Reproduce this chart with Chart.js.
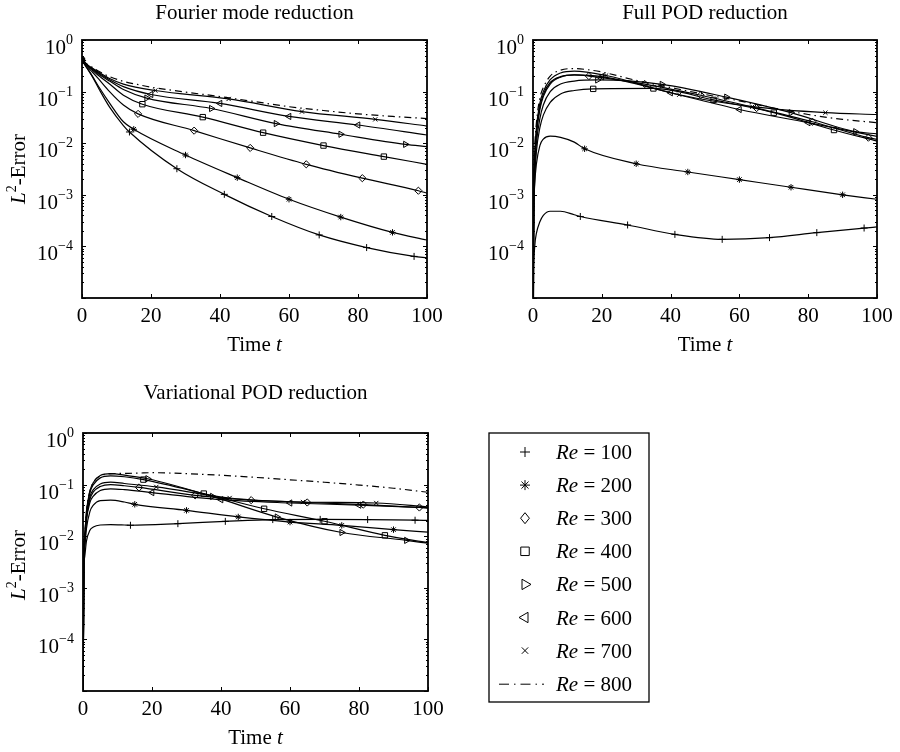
<!DOCTYPE html>
<html>
<head>
<meta charset="utf-8">
<script src="https://cdn.jsdelivr.net/npm/chart.js@4.4.1/dist/chart.umd.min.js"></script>
<style>
body { margin: 0; background: #fff; }
#page { position: relative; width: 900px; height: 752px; }
canvas { position: absolute; }
</style>
</head>
<body>
<div id="page">
<canvas id="fourier" width="450" height="360" style="left:0;top:0"></canvas>
<canvas id="fullPod" width="450" height="360" style="left:450px;top:0"></canvas>
<canvas id="varPod" width="450" height="382" style="left:0;top:370px"></canvas>
<canvas id="legend" width="200" height="300" style="left:470px;top:420px"></canvas>
</div>
<script>
var reynolds = [100, 200, 300, 400, 500, 600, 700, 800];

// sample times: common start, then marker times per Re (or plain samples for Re = 800), then t = 100
var earlyTimes = [0, 0.25, 0.5, 1, 2, 3, 5, 8, 12];
var markerTimes = [
    [13.75, 27.5, 41.25, 55, 68.75, 82.5, 96.25],
    [15, 30, 45, 60, 75, 90],
    [16.25, 32.5, 48.75, 65, 81.25, 97.5],
    [17.5, 35, 52.5, 70, 87.5],
    [18.75, 37.5, 56.25, 75, 93.75],
    [20, 40, 60, 80],
    [21.25, 42.5, 63.75, 85],
    []
];
var dashTimes = [16, 20, 30, 40, 50, 60, 70, 80, 90];
var endTime = 100;

var xTicks = [0, 20, 40, 60, 80, 100];
var yExponents = [0, -1, -2, -3, -4];

var fourierErr = [
    [0.4, 0.375, 0.355, 0.315, 0.25, 0.195, 0.11, 0.05, 0.022, 0.0165, 0.0032, 0.00102, 0.00038, 0.000167, 0.000095, 0.000064, 0.00006],
    [0.4, 0.378, 0.36, 0.32, 0.255, 0.2, 0.12, 0.06, 0.026, 0.0186, 0.0059, 0.00215, 0.00082, 0.00037, 0.000187, 0.000133],
    [0.4, 0.382, 0.365, 0.335, 0.28, 0.24, 0.17, 0.1, 0.055, 0.037, 0.0175, 0.0081, 0.0039, 0.0021, 0.0012, 0.00108],
    [0.4, 0.385, 0.37, 0.345, 0.295, 0.26, 0.2, 0.14, 0.085, 0.057, 0.032, 0.016, 0.009, 0.0055, 0.0039],
    [0.4, 0.387, 0.375, 0.35, 0.305, 0.27, 0.215, 0.16, 0.11, 0.075, 0.047, 0.024, 0.0149, 0.0095, 0.0086],
    [0.4, 0.388, 0.377, 0.355, 0.31, 0.28, 0.225, 0.17, 0.125, 0.088, 0.059, 0.033, 0.0225, 0.0144],
    [0.4, 0.39, 0.38, 0.36, 0.315, 0.285, 0.235, 0.18, 0.14, 0.105, 0.072, 0.041, 0.029, 0.0215],
    [0.4, 0.39, 0.38, 0.36, 0.32, 0.295, 0.245, 0.195, 0.158, 0.138, 0.122, 0.098, 0.08, 0.064, 0.051, 0.043, 0.037, 0.033, 0.030]
];

var fullPodErr = [
    [0.000001, 0.00004, 0.0001, 0.00018, 0.0003, 0.0004, 0.00048, 0.00048, 0.00041, 0.00038, 0.00026, 0.000171, 0.000137, 0.000148, 0.000185, 0.000227, 0.000238],
    [0.000003, 0.0005, 0.0016, 0.004, 0.009, 0.012, 0.0137, 0.013, 0.0105, 0.0078, 0.004, 0.00277, 0.00197, 0.0014, 0.001, 0.00082],
    [0.000003, 0.0012, 0.005, 0.017, 0.05, 0.088, 0.15, 0.195, 0.21, 0.2, 0.14, 0.085, 0.048, 0.026, 0.0128, 0.0118],
    [0.000003, 0.0005, 0.002, 0.007, 0.02, 0.035, 0.062, 0.09, 0.105, 0.113, 0.115, 0.069, 0.039, 0.018, 0.011],
    [0.000003, 0.0008, 0.003, 0.01, 0.03, 0.055, 0.1, 0.14, 0.16, 0.168, 0.138, 0.078, 0.039, 0.0167, 0.0152],
    [0.000003, 0.001, 0.004, 0.014, 0.045, 0.08, 0.14, 0.19, 0.21, 0.195, 0.095, 0.045, 0.025, 0.0135],
    [0.000003, 0.0015, 0.006, 0.02, 0.06, 0.1, 0.17, 0.23, 0.25, 0.205, 0.087, 0.051, 0.039, 0.036],
    [0.000003, 0.002, 0.008, 0.025, 0.075, 0.12, 0.2, 0.26, 0.28, 0.265, 0.24, 0.165, 0.12, 0.088, 0.066, 0.048, 0.036, 0.029, 0.025]
];

var varPodErr = [
    [0.000002, 0.002, 0.004, 0.008, 0.013, 0.015, 0.0165, 0.0168, 0.0165, 0.0163, 0.0175, 0.0194, 0.021, 0.0212, 0.021, 0.0204, 0.0203],
    [0.000002, 0.003, 0.006, 0.014, 0.03, 0.04, 0.049, 0.05, 0.046, 0.0415, 0.0317, 0.0236, 0.0188, 0.0162, 0.0134, 0.012],
    [0.000002, 0.0035, 0.008, 0.022, 0.052, 0.072, 0.092, 0.1, 0.095, 0.088, 0.062, 0.05, 0.045, 0.041, 0.036, 0.035],
    [0.000002, 0.004, 0.01, 0.028, 0.07, 0.1, 0.135, 0.148, 0.142, 0.125, 0.067, 0.034, 0.0195, 0.0104, 0.0075],
    [0.000002, 0.004, 0.01, 0.03, 0.075, 0.11, 0.15, 0.163, 0.152, 0.13, 0.059, 0.0235, 0.0118, 0.0083, 0.0073],
    [0.000002, 0.003, 0.007, 0.02, 0.045, 0.06, 0.077, 0.083, 0.08, 0.07, 0.051, 0.044, 0.04, 0.0357],
    [0.000002, 0.0035, 0.009, 0.024, 0.058, 0.08, 0.103, 0.112, 0.105, 0.09, 0.055, 0.046, 0.044, 0.037],
    [0.000002, 0.004, 0.01, 0.03, 0.075, 0.11, 0.148, 0.162, 0.165, 0.167, 0.17, 0.163, 0.152, 0.138, 0.124, 0.111, 0.098, 0.085, 0.071]
];

// marker look per Re
var markerStyles = ['cross', 'star', 'rectRot', 'rect', 'triangle', 'triangle', 'crossRot', false];
var markerRotation = [0, 0, 0, 0, 90, -90, 0, 0];
var markerRadius = [3.5, 3.2, 3.6, 3.8, 3.6, 3.6, 3, 0];

var serif = '"Liberation Serif", "Times New Roman", serif';

function buildDatasets(values) {
    return reynolds.map(function(re, i) {
        var plain = markerStyles[i] === false;
        var times = earlyTimes.concat(plain ? dashTimes : markerTimes[i], [endTime]);
        var points = times.map(function(t, j) {
            var isMark = !plain && (j === 0 || (j >= earlyTimes.length && j < earlyTimes.length + markerTimes[i].length));
            return { x: t, y: values[i][j], m: isMark };
        });
        return {
            label: 'Re = ' + re,
            data: points,
            borderColor: '#000',
            borderWidth: 1.2,
            borderDash: plain ? [7, 4, 1.5, 4] : [],
            cubicInterpolationMode: 'monotone',
            fill: false,
            pointStyle: plain ? 'circle' : markerStyles[i],
            pointRotation: markerRotation[i],
            pointRadius: function(ctx) { return ctx.raw && ctx.raw.m ? markerRadius[i] : 0; },
            pointHoverRadius: 0,
            pointBorderColor: '#000',
            pointBackgroundColor: 'rgba(0,0,0,0)',
            pointBorderWidth: 1
        };
    });
}

function drawRich(ctx, parts, x, y) {
    parts.forEach(function(p) {
        ctx.font = p.font;
        ctx.fillText(p.text, x, y - (p.raise || 0));
        x += ctx.measureText(p.text).width;
    });
}

function richWidth(ctx, parts) {
    var w = 0;
    parts.forEach(function(p) {
        ctx.font = p.font;
        w += ctx.measureText(p.text).width;
    });
    return w;
}

var frame = {
    id: 'frame',
    afterDraw: function(chart, args, opts) {
        var ctx = chart.ctx, a = chart.chartArea;
        var xs = chart.scales.x, ys = chart.scales.y;
        ctx.save();
        ctx.strokeStyle = '#000';
        ctx.fillStyle = '#000';

        ctx.lineWidth = 1;
        ctx.beginPath();
        xTicks.forEach(function(t) {
            var px = Math.round(xs.getPixelForValue(t)) + 0.5;
            ctx.moveTo(px, a.bottom); ctx.lineTo(px, a.bottom - 4);
            ctx.moveTo(px, a.top); ctx.lineTo(px, a.top + 4);
        });
        for (var k = -5; k <= 0; k++) {
            for (var m = 1; m <= 9; m++) {
                var v = m * Math.pow(10, k);
                if (v > 1) break;
                var py = Math.round(ys.getPixelForValue(v)) + 0.5;
                var len = m === 1 ? 4 : 2;
                ctx.moveTo(a.left, py); ctx.lineTo(a.left + len, py);
                ctx.moveTo(a.right, py); ctx.lineTo(a.right - len, py);
            }
        }
        ctx.stroke();

        ctx.lineWidth = 1.8;
        ctx.strokeRect(a.left, a.top, a.right - a.left, a.bottom - a.top);

        ctx.textBaseline = 'alphabetic';
        ctx.font = '21px ' + serif;
        ctx.textAlign = 'center';
        xTicks.forEach(function(t) {
            ctx.fillText(String(t), xs.getPixelForValue(t), a.bottom + 24);
        });

        ctx.textAlign = 'right';
        yExponents.forEach(function(e) {
            var py = ys.getPixelForValue(Math.pow(10, e));
            var sup = e === 0 ? '0' : '\u2212' + (-e);
            ctx.font = '14px ' + serif;
            var sw = ctx.measureText(sup).width;
            ctx.fillText(sup, a.left - 9, py + 4);
            ctx.font = '21px ' + serif;
            ctx.fillText('10', a.left - 9 - sw, py + 14);
        });

        ctx.textAlign = 'left';
        var cx = (a.left + a.right) / 2;
        ctx.font = '21px ' + serif;
        var tw = ctx.measureText(opts.title).width;
        ctx.fillText(opts.title, cx - tw / 2, opts.titleY);

        var xLabel = [
            { text: 'Time ', font: '21px ' + serif },
            { text: 't', font: 'italic 21px ' + serif }
        ];
        drawRich(ctx, xLabel, cx - richWidth(ctx, xLabel) / 2, a.bottom + 53);

        if (opts.yLabel) {
            var yLabel = [
                { text: 'L', font: 'italic 21px ' + serif },
                { text: '2', font: '14px ' + serif, raise: 9 },
                { text: '-Error', font: '21px ' + serif }
            ];
            var cy = (a.top + a.bottom) / 2 + (opts.yLabelShift || 0);
            ctx.translate(25, cy);
            ctx.rotate(-Math.PI / 2);
            drawRich(ctx, yLabel, -richWidth(ctx, yLabel) / 2, 0);
        }
        ctx.restore();
    }
};

function makeChart(id, values, padding, frameOpts) {
    return new Chart(document.getElementById(id).getContext('2d'), {
        type: 'line',
        data: { datasets: buildDatasets(values) },
        options: {
            responsive: false,
            animation: false,
            devicePixelRatio: 1,
            events: [],
            layout: { padding: padding },
            scales: {
                x: { type: 'linear', min: 0, max: 100, display: false },
                y: { type: 'logarithmic', min: 1e-5, max: 1, display: false }
            },
            plugins: {
                legend: { display: false },
                tooltip: { enabled: false },
                frame: frameOpts
            }
        },
        plugins: [frame]
    });
}

makeChart('fourier', fourierErr, { left: 82, top: 40, right: 23, bottom: 62 },
    { title: 'Fourier mode reduction', titleY: 19, yLabel: true });
makeChart('fullPod', fullPodErr, { left: 83, top: 40, right: 23, bottom: 62 },
    { title: 'Full POD reduction', titleY: 19, yLabel: false });
makeChart('varPod', varPodErr, { left: 83, top: 63, right: 22, bottom: 61 },
    { title: 'Variational POD reduction', titleY: 29, yLabel: true, yLabelShift: 3 });

// legend box
function drawMarker(ctx, style, rot, x, y, r) {
    ctx.save();
    ctx.translate(x, y);
    ctx.rotate(rot * Math.PI / 180);
    ctx.beginPath();
    if (style === 'cross' || style === 'star') {
        ctx.moveTo(0, -r); ctx.lineTo(0, r);
        ctx.moveTo(-r, 0); ctx.lineTo(r, 0);
    }
    if (style === 'crossRot' || style === 'star') {
        var d = r * Math.SQRT1_2;
        ctx.moveTo(-d, -d); ctx.lineTo(d, d);
        ctx.moveTo(-d, d); ctx.lineTo(d, -d);
    }
    if (style === 'rect') {
        var s = r * Math.SQRT1_2;
        ctx.rect(-s, -s, 2 * s, 2 * s);
    }
    if (style === 'rectRot') {
        ctx.moveTo(0, -r); ctx.lineTo(r * 0.8, 0); ctx.lineTo(0, r); ctx.lineTo(-r * 0.8, 0);
        ctx.closePath();
    }
    if (style === 'triangle') {
        for (var q = 0; q < 3; q++) {
            var ang = q * 2 * Math.PI / 3;
            var px = Math.sin(ang) * r, py = -Math.cos(ang) * r;
            if (q === 0) ctx.moveTo(px, py); else ctx.lineTo(px, py);
        }
        ctx.closePath();
    }
    ctx.stroke();
    ctx.restore();
}

var legendSize = [5, 5, 5.5, 6, 6, 6, 4.5, 0];
var lg = document.getElementById('legend').getContext('2d');
lg.strokeStyle = '#000';
lg.fillStyle = '#000';
lg.lineWidth = 1.3;
lg.strokeRect(19, 13, 160, 269);
lg.lineWidth = 1;
reynolds.forEach(function(re, i) {
    var y = 32 + i * 33.1;
    if (markerStyles[i] === false) {
        lg.save();
        lg.setLineDash([10, 5, 1.5, 5]);
        lg.beginPath();
        lg.moveTo(29, y + 0.5); lg.lineTo(74, y + 0.5);
        lg.stroke();
        lg.restore();
    } else {
        drawMarker(lg, markerStyles[i], markerRotation[i], 55, y, legendSize[i]);
    }
    drawRich(lg, [
        { text: 'Re', font: 'italic 21px ' + serif },
        { text: ' = ' + re, font: '21px ' + serif }
    ], 86, y + 7);
});
</script>
</body>
</html>
